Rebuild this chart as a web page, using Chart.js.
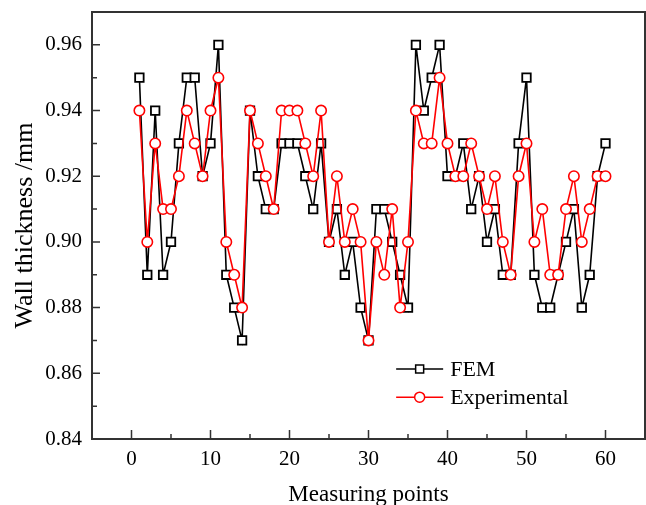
<!DOCTYPE html>
<html>
<head>
<meta charset="utf-8">
<script src="https://cdn.jsdelivr.net/npm/chart.js@4.4.0/dist/chart.umd.min.js"></script>
<style>
  html, body { margin: 0; padding: 0; background: #fff; }
  canvas { display: block; }
</style>
</head>
<body>
<canvas id="wc" width="646" height="505"></canvas>
<script>
/* ── Points de mesure et épaisseurs (mm) ── */
const POINTS = [1,2,3,4,5,6,7,8,9,10,11,12,13,14,15,16,17,18,19,20,
                21,22,23,24,25,26,27,28,29,30,31,32,33,34,35,36,37,38,39,40,
                41,42,43,44,45,46,47,48,49,50,51,52,53,54,55,56,57,58,59,60];
const FEM = [0.95,0.89,0.94,0.89,0.90,0.93,0.95,0.95,0.92,0.93,
             0.96,0.89,0.88,0.87,0.94,0.92,0.91,0.91,0.93,0.93,
             0.93,0.92,0.91,0.93,0.90,0.91,0.89,0.90,0.88,0.87,
             0.91,0.91,0.90,0.89,0.88,0.96,0.94,0.95,0.96,0.92,
             0.92,0.93,0.91,0.92,0.90,0.91,0.89,0.89,0.93,0.95,
             0.89,0.88,0.88,0.89,0.90,0.91,0.88,0.89,0.92,0.93];
const EXP = [0.94,0.90,0.93,0.91,0.91,0.92,0.94,0.93,0.92,0.94,
             0.95,0.90,0.89,0.88,0.94,0.93,0.92,0.91,0.94,0.94,
             0.94,0.93,0.92,0.94,0.90,0.92,0.90,0.91,0.90,0.87,
             0.90,0.89,0.91,0.88,0.90,0.94,0.93,0.93,0.95,0.93,
             0.92,0.92,0.93,0.92,0.91,0.92,0.90,0.89,0.92,0.93,
             0.90,0.91,0.89,0.89,0.91,0.92,0.90,0.91,0.92,0.92];
const XTICKS = [0,10,20,30,40,50,60];
const YTICKS = [0.84,0.86,0.88,0.90,0.92,0.94,0.96];

const SERIF = "'Liberation Serif', 'Times New Roman', serif";
const INK = '#333';

/* ── Cadre, graduations intérieures, titres et légende ── */
const decor = {
  id: 'decor',
  afterDraw(chart) {
    const { ctx, chartArea: ca, scales: { x, y } } = chart;
    ctx.save();
    ctx.strokeStyle = INK;
    ctx.lineWidth = 2;
    ctx.strokeRect(ca.left, ca.top, ca.right - ca.left, ca.bottom - ca.top);

    ctx.lineWidth = 1.5;
    ctx.beginPath();
    XTICKS.forEach((v, i) => {
      const px = x.getPixelForValue(v);
      ctx.moveTo(px, ca.bottom); ctx.lineTo(px, ca.bottom - 9);
      if (i < XTICKS.length - 1) {
        const mx = x.getPixelForValue((v + XTICKS[i + 1]) / 2);
        ctx.moveTo(mx, ca.bottom); ctx.lineTo(mx, ca.bottom - 5);
      }
    });
    YTICKS.forEach((v, i) => {
      const py = y.getPixelForValue(v);
      ctx.moveTo(ca.left, py); ctx.lineTo(ca.left + 8, py);
      if (i < YTICKS.length - 1) {
        const my = y.getPixelForValue((v + YTICKS[i + 1]) / 2);
        ctx.moveTo(ca.left, my); ctx.lineTo(ca.left + 5, my);
      }
    });
    ctx.stroke();

    // titres d'axes
    ctx.fillStyle = '#000';
    ctx.font = '23px ' + SERIF;
    ctx.textAlign = 'center';
    ctx.textBaseline = 'alphabetic';
    ctx.fillText('Measuring points', (ca.left + ca.right) / 2, 501);
    ctx.save();
    ctx.font = '26px ' + SERIF;
    ctx.translate(32, (ca.top + ca.bottom) / 2);
    ctx.rotate(-Math.PI / 2);
    ctx.fillText('Wall thickness /mm', 0, 0);
    ctx.restore();

    // légende
    const w = ca.right - ca.left, h = ca.bottom - ca.top;
    const lx0 = ca.left + 0.55 * w, lx1 = lx0 + 47, tx = lx1 + 7;
    const rows = [
      { label: 'FEM', color: '#000', style: 'rect', yy: ca.top + 0.836 * h },
      { label: 'Experimental', color: '#ff0000', style: 'circle', yy: ca.top + 0.902 * h },
    ];
    rows.forEach(r => {
      ctx.strokeStyle = r.color;
      ctx.lineWidth = 1.5;
      ctx.beginPath(); ctx.moveTo(lx0, r.yy); ctx.lineTo(lx1, r.yy); ctx.stroke();
      const cx = (lx0 + lx1) / 2;
      ctx.fillStyle = '#fff';
      ctx.beginPath();
      if (r.style === 'rect') ctx.rect(cx - 4, r.yy - 4, 8, 8);
      else ctx.arc(cx, r.yy, 5, 0, Math.PI * 2);
      ctx.fill(); ctx.stroke();
      ctx.fillStyle = '#000';
      ctx.font = '22px ' + SERIF;
      ctx.textAlign = 'left';
      ctx.textBaseline = 'middle';
      ctx.fillText(r.label, tx, r.yy + 1);
    });
    ctx.restore();
  }
};

const tickFont = { family: SERIF, size: 21 };
const noPad = s => { s.paddingLeft = 0; s.paddingRight = 0; s.paddingTop = 0; s.paddingBottom = 0; };

new Chart(document.getElementById('wc'), {
  type: 'line',
  data: {
    datasets: [
      {
        label: 'FEM',
        data: POINTS.map((p, i) => ({ x: p, y: FEM[i] })),
        borderColor: '#000',
        borderWidth: 1.6,
        pointStyle: 'rect',
        pointRadius: 6,
        pointBorderWidth: 1.8,
        pointBackgroundColor: '#fff',
        pointBorderColor: '#000',
        tension: 0,
        order: 1,
      },
      {
        label: 'Experimental',
        data: POINTS.map((p, i) => ({ x: p, y: EXP[i] })),
        borderColor: '#ff0000',
        borderWidth: 1.6,
        pointStyle: 'circle',
        pointRadius: 5.2,
        pointBorderWidth: 1.6,
        pointBackgroundColor: '#fff',
        pointBorderColor: '#ff0000',
        tension: 0,
        order: 0,
      },
    ],
  },
  options: {
    responsive: false,
    animation: false,
    layout: { autoPadding: false, padding: { top: 12, right: 1, left: 0, bottom: 0 } },
    plugins: { legend: { display: false }, tooltip: { enabled: false } },
    scales: {
      x: {
        type: 'linear',
        min: -5, max: 65,
        afterBuildTicks: s => { s.ticks = XTICKS.map(v => ({ value: v })); },
        afterFit: s => { s.height = 66; noPad(s); },
        grid: { display: false, drawTicks: false },
        border: { display: false },
        ticks: { font: tickFont, color: '#000', padding: 8, maxRotation: 0, callback: v => String(v) },
      },
      y: {
        type: 'linear',
        min: 0.84, max: 0.97,
        afterBuildTicks: s => { s.ticks = YTICKS.map(v => ({ value: v })); },
        afterFit: s => { s.width = 92; noPad(s); },
        grid: { display: false, drawTicks: false },
        border: { display: false },
        ticks: { font: tickFont, color: '#000', padding: 10, callback: v => v.toFixed(2) },
      },
    },
  },
  plugins: [decor],
});
</script>
</body>
</html>
